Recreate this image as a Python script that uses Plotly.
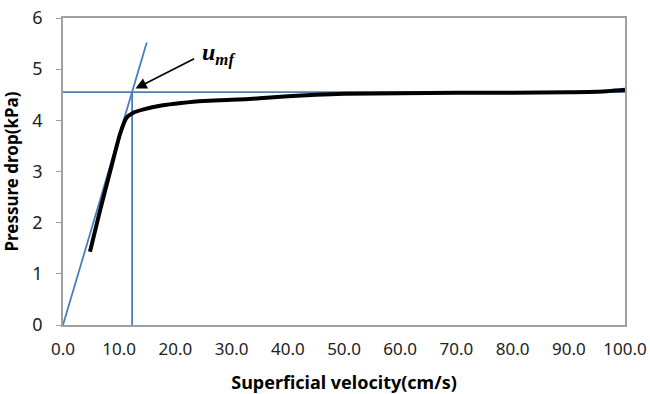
import plotly.graph_objects as go

# Data
velocity = [4.8, 6.5, 8.5, 10.2, 11.3, 12.5, 14.5, 17.5, 21.0, 25.0, 30.0, 35.0, 40.0, 45.0, 50.0, 60.0, 70.0, 80.0, 90.0, 95.0, 100.0]
pressure = [1.43, 2.2, 3.05, 3.75, 4.05, 4.15, 4.22, 4.29, 4.34, 4.38, 4.40, 4.43, 4.47, 4.50, 4.52, 4.53, 4.54, 4.54, 4.55, 4.56, 4.6]

tangent_x = [0.0, 14.9]
tangent_y = [0.0, 5.52]
plateau_x = [0.0, 100.0]
plateau_y = [4.55, 4.55]
umf_x = [12.3, 12.3]
umf_y = [0.0, 4.55]

x_ticks = [0, 10, 20, 30, 40, 50, 60, 70, 80, 90, 100]
x_tick_labels = ["0.0", "10.0", "20.0", "30.0", "40.0", "50.0", "60.0", "70.0", "80.0", "90.0", "100.0"]
y_ticks = [0, 1, 2, 3, 4, 5, 6]

blue = "#4a7ebb"

fig = go.Figure()
fig.add_trace(go.Scatter(x=plateau_x, y=plateau_y, mode="lines",
                         line=dict(color=blue, width=1.8), showlegend=False))
fig.add_trace(go.Scatter(x=umf_x, y=umf_y, mode="lines",
                         line=dict(color=blue, width=1.8), showlegend=False))
fig.add_trace(go.Scatter(x=tangent_x, y=tangent_y, mode="lines",
                         line=dict(color=blue, width=1.8), showlegend=False))
fig.add_trace(go.Scatter(x=velocity, y=pressure, mode="lines",
                         line=dict(color="black", width=4, shape="spline", smoothing=0.6),
                         showlegend=False))

fig.add_annotation(x=12.9, y=4.62, ax=23.6, ay=5.22, xref="x", yref="y",
                   axref="x", ayref="y", text="", showarrow=True,
                   arrowhead=2, arrowsize=1.4, arrowwidth=1.6, arrowcolor="black")
fig.add_annotation(x=24.3, y=5.3, xref="x", yref="y", xanchor="left",
                   text="<b><i>u<sub>mf</sub></i></b>", showarrow=False,
                   font=dict(family="Liberation Serif", size=24, color="black"))

axis_font = dict(family="Noto Sans", size=17, color="#222222")
fig.update_layout(
    width=650, height=394,
    margin=dict(l=63, r=25, t=18, b=69),
    plot_bgcolor="white", paper_bgcolor="white",
    xaxis=dict(range=[0, 100], tickmode="array", tickvals=x_ticks, ticktext=x_tick_labels,
               showgrid=False, zeroline=False, showline=True, linecolor="#a0a0a0",
               linewidth=1.5, mirror=True, ticks="", tickfont=axis_font, automargin=False,
               ticklabelstandoff=8, ticklabeloverflow="allow",
               title=dict(text="<b>Superficial velocity(cm/s)</b>",
                          font=dict(family="Noto Sans", size=18, color="black"), standoff=19)),
    yaxis=dict(range=[0, 6], tickmode="array", tickvals=y_ticks,
               showgrid=False, zeroline=False, showline=True, linecolor="#a0a0a0",
               linewidth=1.5, mirror=True, ticks="outside", ticklen=5, tickcolor="#a0a0a0",
               tickfont=dict(family="Noto Sans", size=18, color="#222222"),
               automargin=False, ticklabelstandoff=10, ticklabeloverflow="allow",
               title=dict(text="<b>Pressure drop(kPa)</b>",
                          font=dict(family="Noto Sans", size=17, color="black"), standoff=14)),
)

fig.write_html("out.html", config={"displayModeBar": False},
               post_script="document.body.style.margin='0';")
